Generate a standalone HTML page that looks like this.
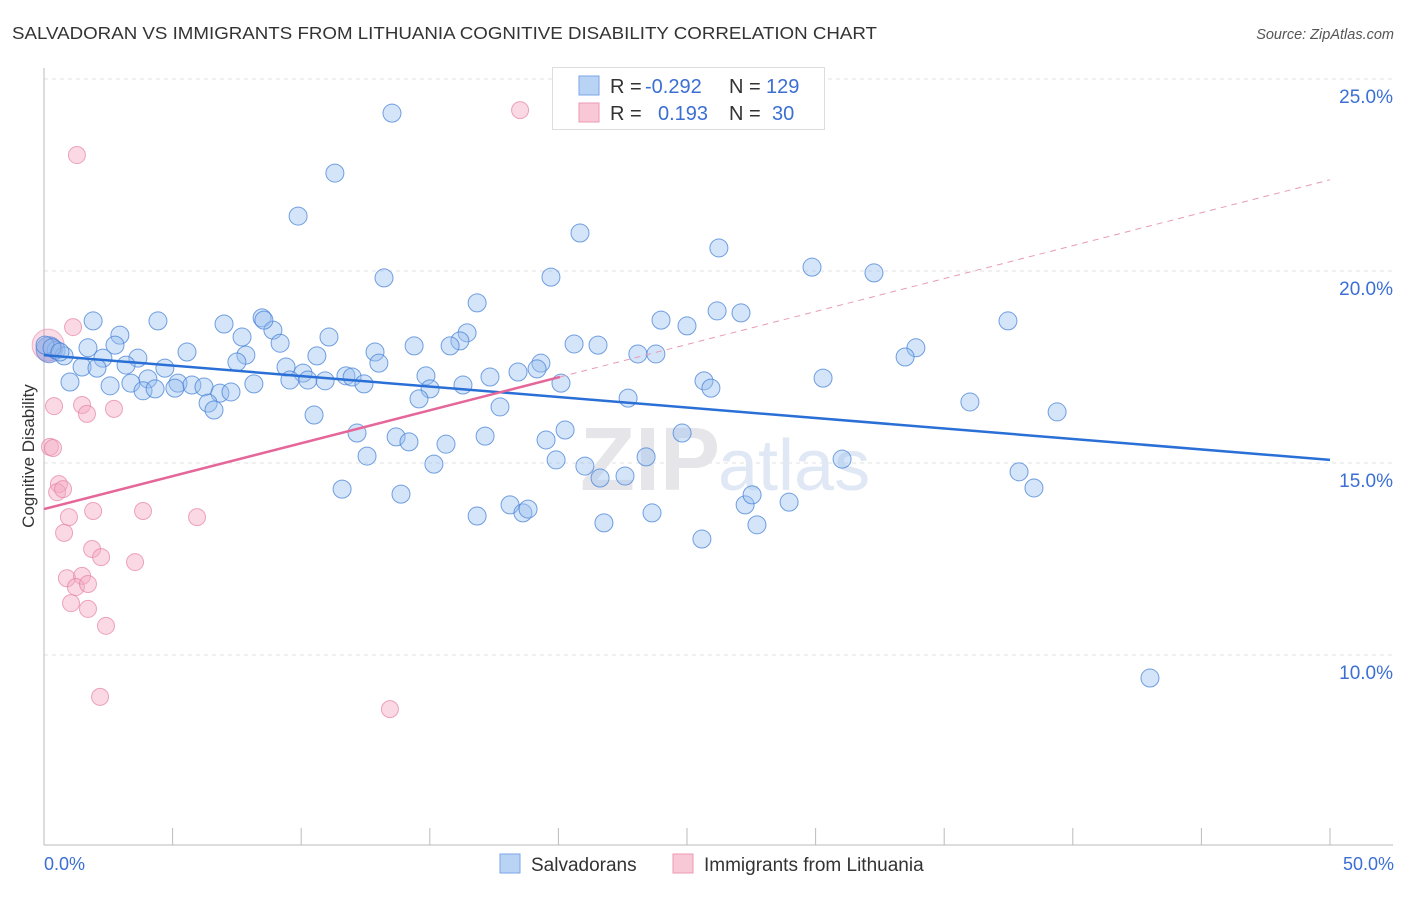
<!DOCTYPE html>
<html><head><meta charset="utf-8"><style>
body{margin:0;background:#fff;font-family:"Liberation Sans",sans-serif;}
svg text{font-family:"Liberation Sans",sans-serif;}
</style></head><body>
<svg id="chart" width="1406" height="892" xmlns="http://www.w3.org/2000/svg">
<text x="12" y="39" font-size="17.5" fill="#333" textLength="865" lengthAdjust="spacingAndGlyphs">SALVADORAN VS IMMIGRANTS FROM LITHUANIA COGNITIVE DISABILITY CORRELATION CHART</text>
<text x="1394" y="39" font-size="14.5" fill="#555" font-style="italic" text-anchor="end">Source: ZipAtlas.com</text>
<g id="grid"></g>
<text x="720" y="490" font-size="90" fill="#e6e6ea" text-anchor="end" font-weight="bold" font-family="Liberation Serif">ZIP</text>
<text x="718" y="490" font-size="72" fill="#dfe8f4">atlas</text>
<line x1="44" y1="68" x2="44" y2="845" stroke="#bbb"/>
<line x1="44" y1="845" x2="1393" y2="845" stroke="#bbb"/>
<g id="xticks"></g>
<text transform="translate(34,456) rotate(-90)" font-size="17" fill="#333" text-anchor="middle">Cognitive Disability</text>
<g id="ylabels"></g>
<text x="44" y="870" font-size="18" fill="#3b6fd4">0.0%</text>
<text x="1394" y="870" font-size="18" fill="#3b6fd4" text-anchor="end">50.0%</text>
<g id="pink"></g>
<g id="blue"></g>
<g id="lines"></g>
<g>
<rect x="552.5" y="67.5" width="272" height="62" fill="#fff" stroke="#ddd"/>
<rect x="579" y="76" width="20" height="19" fill="#b9d3f5" stroke="#7aa6e6"/>
<rect x="579" y="103" width="20" height="19" fill="#f9c8d6" stroke="#ec9ab3"/>
<text x="610" y="93" font-size="20" fill="#333">R = <tspan x="645" fill="#3b6fd4">-0.292</tspan><tspan x="729">N = </tspan><tspan x="766" fill="#3b6fd4">129</tspan></text>
<text x="610" y="120" font-size="20" fill="#333">R = <tspan x="658" fill="#3b6fd4">0.193</tspan><tspan x="729">N = </tspan><tspan x="772" fill="#3b6fd4">30</tspan></text>
</g>
<g>
<rect x="500" y="854" width="20" height="19" fill="#b9d3f5" stroke="#7aa6e6"/>
<text x="531" y="871" font-size="19" fill="#333">Salvadorans</text>
<rect x="673" y="854" width="20" height="19" fill="#f9c8d6" stroke="#ec9ab3"/>
<text x="704" y="871" font-size="19" fill="#333">Immigrants from Lithuania</text>
</g>
</svg>
<script>
const yTicks=[10,15,20,25];
const xTickVals=[0,5,10,15,20,25,30,35,40,45,50];
const blueX=[13.53,11.31,9.88,20.84,26.24,13.22,19.71,29.86,32.27,16.84,1.91,4.43,7.00,8.48,8.90,8.55,2.95,7.70,9.18,11.08,16.45,16.17,15.79,14.39,12.87,13.02,20.61,21.54,23.99,25.00,26.17,27.10,37.48,33.90,33.48,23.09,23.79,0.47,0.78,1.71,2.76,2.29,3.65,5.56,7.85,7.50,10.61,1.48,2.06,3.19,4.70,9.41,10.07,4.04,5.21,5.75,6.22,1.01,2.57,3.38,3.85,4.32,5.09,6.84,7.27,8.16,9.56,10.26,10.93,11.74,11.98,12.44,14.85,15.01,16.29,17.34,18.43,19.32,19.17,20.10,25.66,25.93,30.29,14.58,6.38,6.61,17.73,22.71,36.00,39.39,10.50,12.17,13.69,14.19,15.63,17.15,19.52,20.26,24.81,12.56,15.16,19.91,21.03,21.62,22.59,23.41,31.03,37.91,38.49,11.59,13.88,16.84,18.12,18.62,18.82,21.77,23.64,27.26,27.53,27.72,28.97,25.58,43.00,0.04,0.31,0.62];
const blueY=[24.11,22.55,21.43,20.99,20.60,19.82,19.84,20.10,19.95,19.17,18.70,18.70,18.62,18.78,18.46,18.72,18.33,18.28,18.12,18.28,18.39,18.18,18.05,18.05,17.89,17.60,18.10,18.07,18.72,18.57,18.96,18.91,18.70,18.00,17.76,17.84,17.84,17.94,17.79,18.00,18.07,17.73,17.73,17.89,17.81,17.63,17.79,17.50,17.47,17.55,17.47,17.50,17.34,17.19,17.08,17.03,16.98,17.11,17.01,17.08,16.88,16.93,16.95,16.82,16.85,17.06,17.16,17.16,17.14,17.27,17.24,17.06,17.27,16.93,17.03,17.24,17.37,17.60,17.45,17.08,17.14,16.95,17.21,16.67,16.56,16.38,16.46,16.69,16.59,16.33,16.25,15.78,15.68,15.55,15.49,15.70,15.60,15.86,15.78,15.18,14.97,15.08,14.92,14.61,14.66,15.16,15.10,14.77,14.35,14.32,14.19,13.62,13.91,13.70,13.80,13.44,13.70,13.91,14.17,13.39,13.98,13.02,9.40,18.07,18.00,17.89];
const pinkX=[18.51,1.28,1.13,0.39,1.48,1.67,2.72,0.23,0.35,0.58,0.51,0.74,0.97,1.91,3.85,5.95,0.78,1.87,2.22,3.54,0.89,1.48,1.24,1.71,1.05,1.71,2.41,2.18,13.45];
const pinkY=[24.19,23.02,18.54,16.48,16.51,16.28,16.41,15.42,15.39,14.45,14.24,14.32,13.59,13.75,13.75,13.59,13.18,12.76,12.55,12.42,12.00,12.06,11.77,11.85,11.35,11.20,10.76,8.91,8.59];
const blueTrend=[17.81,15.08];
const pinkTrend=[13.80,0.1715];
const pinkSolidEnd=20.06;
const NS='http://www.w3.org/2000/svg';
const sx=v=>44+v/50*1286;
const sy=v=>79+(25-v)*38.4;
function mk(tag,attrs,parent){const e=document.createElementNS(NS,tag);for(const k in attrs)e.setAttribute(k,attrs[k]);document.getElementById(parent).appendChild(e);return e;}
yTicks.forEach(t=>{
 const l=mk('line',{x1:44,x2:1393,y1:sy(t),y2:sy(t),stroke:'#e2e2e2','stroke-dasharray':'4,4'},'grid');
 
 
 const tx=mk('text',{x:1393,y:sy(t)+24,'font-size':19,fill:'#3b6fd4','text-anchor':'end'},'ylabels');
 tx.textContent=t.toFixed(1)+'%';
 
 
});
xTickVals.forEach(t=>{
 if(t===0)return;
 const l=mk('line',{x1:sx(t),x2:sx(t),y1:828,y2:845,stroke:'#bbb'},'xticks');
 
 
});
const bp=mk('circle',{cx:sx(0.16),cy:sy(18.07),r:16,fill:'rgba(236,140,170,0.3)',stroke:'rgba(226,120,155,0.5)'},'pink');


pinkX.forEach((x,i)=>{
 const c=mk('circle',{cx:sx(x),cy:sy(pinkY[i]),r:8.5,fill:'rgba(245,170,195,0.45)',stroke:'rgba(230,130,165,0.7)','stroke-width':1},'pink');
 
 
});
const bb=mk('circle',{cx:sx(0.2),cy:sy(17.95),r:13,fill:'rgba(110,140,220,0.45)',stroke:'rgba(70,120,210,0.6)'},'blue');


blueX.forEach((x,i)=>{
 const c=mk('circle',{cx:sx(x),cy:sy(blueY[i]),r:9,fill:'rgba(150,190,240,0.4)',stroke:'rgba(70,130,215,0.75)','stroke-width':1},'blue');
 
 
});
const bl=mk('line',{x1:sx(0),y1:sy(blueTrend[0]),x2:sx(50),y2:sy(blueTrend[1]),stroke:'#2a6fd6','stroke-width':2.5},'lines');


const pf=x=>pinkTrend[0]+pinkTrend[1]*x;
const pl=mk('line',{x1:sx(0),y1:sy(pf(0)),x2:sx(pinkSolidEnd),y2:sy(pf(pinkSolidEnd)),stroke:'#e5679a','stroke-width':2.5},'lines');


const pd=mk('line',{x1:sx(pinkSolidEnd),y1:sy(pf(pinkSolidEnd)),x2:sx(50),y2:sy(pf(50)),stroke:'#e89ab8','stroke-width':1,'stroke-dasharray':'6,5'},'lines');


</script>
</body></html>
